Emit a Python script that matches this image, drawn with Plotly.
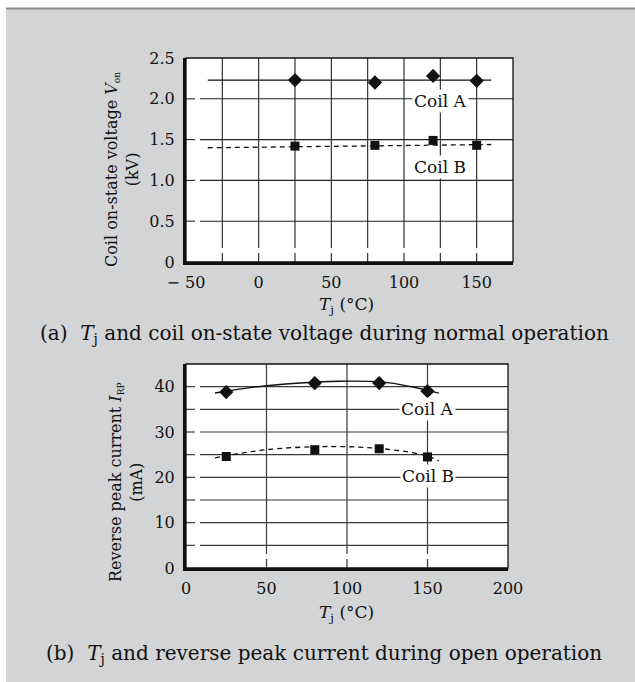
import plotly.graph_objects as go

W, H = 635, 682

# ---------------- data ----------------
# (a) coil on-state voltage vs Tj
a_temp = [25, 80, 120, 150]
a_coilA = [2.23, 2.20, 2.28, 2.22]
a_coilB = [1.42, 1.43, 1.49, 1.43]
a_fitA_x = [-35, 160]
a_fitA_y = [2.23, 2.23]
a_fitB_x = [-35, 160]
a_fitB_y = [1.40, 1.44]
a_xticks = [-50, 0, 50, 100, 150]
a_xticklabels = ["\u2212 50", "0", "50", "100", "150"]
a_yticks = [0, 0.5, 1.0, 1.5, 2.0, 2.5]
a_yticklabels = ["0", "0.5", "1.0", "1.5", "2.0", "2.5"]
a_xgrid = [-25, 0, 25, 50, 75, 100, 125, 150]
a_ygrid = [0.5, 1.0, 1.5, 2.0]

# (b) reverse peak current vs Tj
b_temp = [25, 80, 120, 150]
b_coilA = [38.8, 40.8, 40.8, 39.0]
b_coilB = [24.6, 26.1, 26.3, 24.5]
b_fitA_x = [18, 50, 95, 125, 150, 157]
b_fitA_y = [38.6, 40.2, 41.2, 40.9, 39.2, 38.6]
b_fitB_x = [18, 50, 90, 125, 150, 157]
b_fitB_y = [24.3, 26.1, 26.8, 26.2, 24.7, 23.6]
b_xticks = [0, 50, 100, 150, 200]
b_xticklabels = ["0", "50", "100", "150", "200"]
b_yticks = [0, 10, 20, 30, 40]
b_yticklabels = ["0", "10", "20", "30", "40"]
b_xgrid = [50, 100, 150]
b_ygrid = [5, 10, 15, 20, 25, 30, 35, 40]

FONT = "DejaVu Serif"
INK = "#111111"
BG = "#d3d4d6"

def px(x):
    return x / W

def py(y):
    return 1 - y / H

# plot boxes in pixels
A_L, A_R, A_T, A_B = 186, 513, 58, 262
B_L, B_R, B_T, B_B = 186, 508, 364, 568

fig = go.Figure()

# ---- traces (a)
fig.add_trace(go.Scatter(x=a_fitA_x, y=a_fitA_y, mode="lines",
                         line=dict(color=INK, width=1.3), xaxis="x", yaxis="y", showlegend=False))
fig.add_trace(go.Scatter(x=a_fitB_x, y=a_fitB_y, mode="lines",
                         line=dict(color=INK, width=1.3, dash="5px,4px"), xaxis="x", yaxis="y", showlegend=False))
fig.add_trace(go.Scatter(x=a_temp, y=a_coilA, mode="markers",
                         marker=dict(symbol="diamond", size=11, color=INK), xaxis="x", yaxis="y", showlegend=False))
fig.add_trace(go.Scatter(x=a_temp, y=a_coilB, mode="markers",
                         marker=dict(symbol="square", size=9, color=INK), xaxis="x", yaxis="y", showlegend=False))

# ---- traces (b)
fig.add_trace(go.Scatter(x=b_fitA_x, y=b_fitA_y, mode="lines", line_shape="spline",
                         line=dict(color=INK, width=1.3), xaxis="x2", yaxis="y2", showlegend=False))
fig.add_trace(go.Scatter(x=b_fitB_x, y=b_fitB_y, mode="lines", line_shape="spline",
                         line=dict(color=INK, width=1.3, dash="5px,4px"), xaxis="x2", yaxis="y2", showlegend=False))
fig.add_trace(go.Scatter(x=b_temp, y=b_coilA, mode="markers",
                         marker=dict(symbol="diamond", size=11, color=INK), xaxis="x2", yaxis="y2", showlegend=False))
fig.add_trace(go.Scatter(x=b_temp, y=b_coilB, mode="markers",
                         marker=dict(symbol="square", size=9, color=INK), xaxis="x2", yaxis="y2", showlegend=False))

shapes = []
# white strips at top and left of the grey panel
shapes.append(dict(type="rect", xref="paper", yref="paper", x0=0, x1=1.0, y0=py(8), y1=1.0,
                   fillcolor="white", line=dict(width=0), layer="below"))
shapes.append(dict(type="rect", xref="paper", yref="paper", x0=0, x1=px(6), y0=0, y1=1.0,
                   fillcolor="white", line=dict(width=0), layer="below"))
shapes.append(dict(type="line", xref="paper", yref="paper", x0=px(6), x1=1.0, y0=py(8.5), y1=py(8.5),
                   line=dict(color="#8c8c8c", width=2), layer="below"))


def grid(xa, ya, xs, ys, wpx, hpx, color, width):
    out = []
    tick, gap = 9, 14
    for v in ys:
        out.append(dict(type="line", xref=xa + " domain", yref=ya, x0=0, x1=tick / wpx, y0=v, y1=v,
                        line=dict(color=color, width=width), layer="below"))
        out.append(dict(type="line", xref=xa + " domain", yref=ya, x0=gap / wpx, x1=1, y0=v, y1=v,
                        line=dict(color=color, width=width), layer="below"))
    for v in xs:
        out.append(dict(type="line", xref=xa, yref=ya + " domain", x0=v, x1=v, y0=0, y1=tick / hpx,
                        line=dict(color=color, width=width), layer="below"))
        out.append(dict(type="line", xref=xa, yref=ya + " domain", x0=v, x1=v, y0=gap / hpx, y1=1,
                        line=dict(color=color, width=width), layer="below"))
    # frame
    out.append(dict(type="rect", xref=xa + " domain", yref=ya + " domain", x0=0, x1=1, y0=0, y1=1,
                    line=dict(color=INK, width=1.3), layer="above"))
    return out

shapes += grid("x", "y", a_xgrid, a_ygrid, A_R - A_L, A_B - A_T, "#222222", 1.1)
shapes += grid("x2", "y2", b_xgrid, b_ygrid, B_R - B_L, B_B - B_T, "#3a3a3a", 1.2)

tickfont = dict(family=FONT, size=16, color=INK)
axis_common = dict(showgrid=False, zeroline=False, showline=True, linecolor=INK, linewidth=3,
                   ticks="", tickfont=tickfont, fixedrange=True, automargin=False)

fig.update_layout(
    template="none",
    width=W, height=H,
    margin=dict(l=0, r=0, t=0, b=0, pad=0, autoexpand=False),
    paper_bgcolor=BG,
    plot_bgcolor="white",
    showlegend=False,
    shapes=shapes,
    xaxis=dict(domain=[px(A_L), px(A_R)], range=[-50, 175], anchor="y",
               tickmode="array", tickvals=a_xticks, ticktext=a_xticklabels,
               ticklabelstandoff=4, **axis_common),
    yaxis=dict(domain=[py(A_B), py(A_T)], range=[0, 2.5], anchor="x",
               tickmode="array", tickvals=a_yticks, ticktext=a_yticklabels,
               ticklabelstandoff=5, **axis_common),
    xaxis2=dict(domain=[px(B_L), px(B_R)], range=[0, 200], anchor="y2",
                tickmode="array", tickvals=b_xticks, ticktext=b_xticklabels,
                ticklabelstandoff=4, **axis_common),
    yaxis2=dict(domain=[py(B_B), py(B_T)], range=[0, 45], anchor="x2",
                tickmode="array", tickvals=b_yticks, ticktext=b_yticklabels,
                ticklabelstandoff=5, **axis_common),
)

C = dict(xanchor="center", yanchor="middle", showarrow=False)
lab = dict(family=FONT, size=17, color=INK)
ann = []
# in-plot labels
ann.append(dict(x=125, y=1.97, xref="x", yref="y", text="Coil A", font=lab,
                bgcolor="white", borderpad=1, **C))
ann.append(dict(x=125, y=1.17, xref="x", yref="y", text="Coil B", font=lab,
                bgcolor="white", borderpad=1, **C))
ann.append(dict(x=150, y=35, xref="x2", yref="y2", text="Coil A", font=lab,
                bgcolor="white", borderpad=1, **C))
ann.append(dict(x=150, y=20.2, xref="x2", yref="y2", text="Coil B", font=lab,
                bgcolor="white", borderpad=1, **C))

# axis titles
ttl = dict(family=FONT, size=17, color=INK)
ann.append(dict(x=px(346), y=py(305), xref="paper", yref="paper", font=ttl,
                text="<i>T</i><sub>j</sub> (°C)", **C))
ann.append(dict(x=px(346), y=py(613), xref="paper", yref="paper", font=ttl,
                text="<i>T</i><sub>j</sub> (°C)", **C))
ytl = dict(family=FONT, size=16, color=INK)
ann.append(dict(x=px(122), y=py(170), xref="paper", yref="paper", font=ytl,
                textangle=-90,
                text="Coil on-state voltage <i>V</i><sub><span style='font-size:9px'>on</span></sub><br>(kV)", **C))
ann.append(dict(x=px(126), y=py(482), xref="paper", yref="paper", font=ytl,
                textangle=-90,
                text="Reverse peak current <i>I</i><sub><span style='font-size:9px'>RP</span></sub><br>(mA)", **C))

# captions
cap = dict(family=FONT, size=20, color=INK)
ann.append(dict(x=px(324), y=py(334), xref="paper", yref="paper", font=cap,
                text="(a)  <i>T</i><sub>j</sub> and coil on-state voltage during normal operation", **C))
ann.append(dict(x=px(324), y=py(654), xref="paper", yref="paper", font=cap,
                text="(b)  <i>T</i><sub>j</sub> and reverse peak current during open operation", **C))

fig.update_layout(annotations=ann)

fig.write_html("out.html")
